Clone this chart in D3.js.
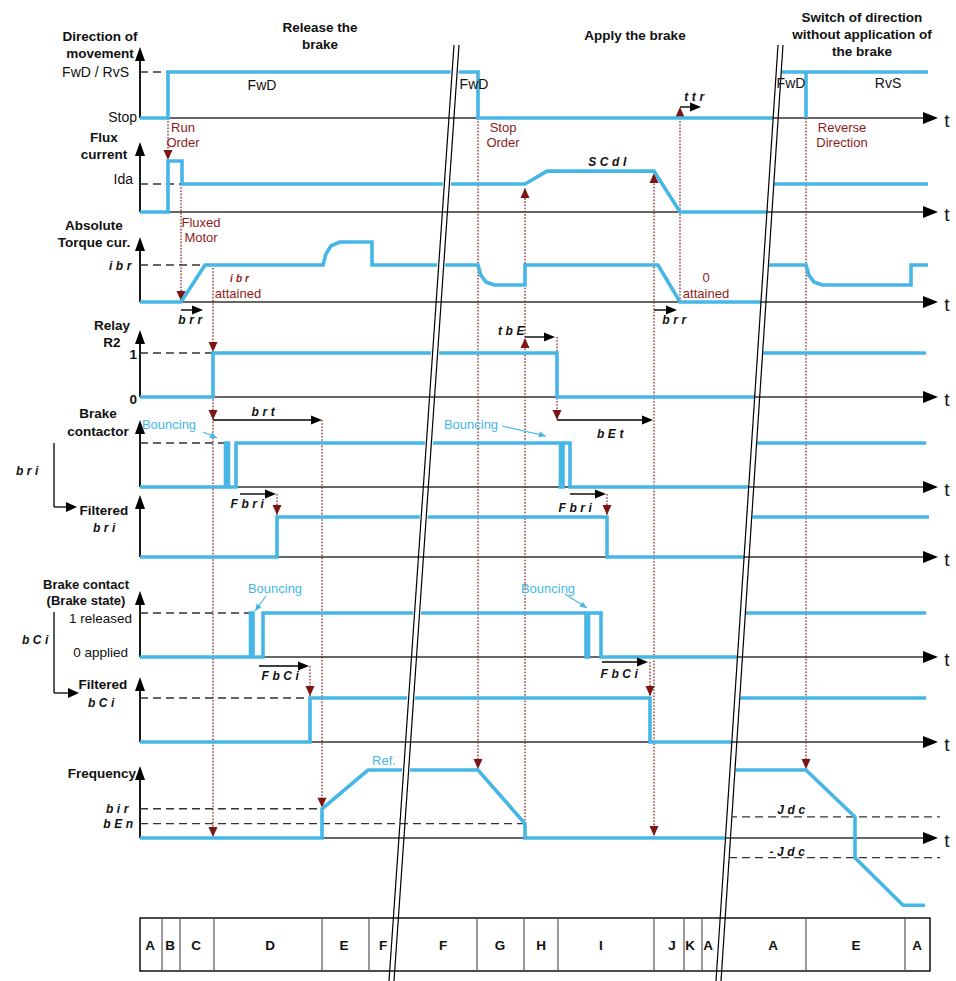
<!DOCTYPE html>
<html>
<head>
<meta charset="utf-8">
<script src="https://cdn.jsdelivr.net/npm/d3@7/dist/d3.min.js"></script>
<style>
html,body{margin:0;padding:0;background:#fff;}
svg{display:block;}
text{font-family:"Liberation Sans",Arial,Helvetica,sans-serif;}
</style>
</head>
<body>
<div id="chart"></div>
<script>
// ================= DATA =================
// time axis in arbitrary units
const timeExtent = [0, 79];

// Direction of movement (0 = Stop, 1 = FwD / RvS)
const directionTicks = ["Stop", "FwD / RvS"];
const directionPre  = [[0,0],[2.8,0],[2.8,1],[33.8,1],[33.8,0],[66,0]];
const directionPost = [[55,1],[66.6,1],[66.6,0],[66.6,1],[78.8,1]];

// Flux current (1 = Ida)
const fluxPre  = [[0,0],[2.8,0],[2.8,1.82],[4.2,1.82],[4.2,1],[38.5,1],[40.7,1.46],[51.4,1.46],[54.0,0],[66,0]];
const fluxPost = [[55,1],[78.8,1]];

// Absolute torque current (1 = ibr)
const torquePre  = [[0,0],[4.1,0],[6.5,1],[18.3,1],[18.6,1.3],[19.1,1.52],[20.0,1.62],[23.2,1.62],[23.2,1],[33.8,1],[34.1,0.72],[34.6,0.54],[35.4,0.46],[38.5,0.46],[38.5,1],[51.8,1],[54.0,0],[66,0]];
const torquePost = [[55,1],[66.6,1],[66.9,0.72],[67.4,0.54],[68.2,0.46],[77.1,0.46],[77.1,1],[78.8,1]];

// Relay R2 (0 / 1)
const relayTicks = ["0", "1"];
const relayPre  = [[0,0],[7.3,0],[7.3,1],[41.7,1],[41.7,0],[66,0]];
const relayPost = [[55,1],[78.6,1]];

// Brake contactor (bri)
const contactorPre  = [[0,0],[8.55,0],[8.55,1],[8.85,1],[8.85,0],[9.6,0],[9.6,1],[42.05,1],[42.05,0],[42.3,0],[42.3,1],[43.0,1],[43.0,0],[66,0]];
const contactorPost = [[55,1],[78.6,1]];

// Filtered bri
const filteredBriPre  = [[0,0],[13.7,0],[13.7,1],[46.7,1],[46.7,0],[66,0]];
const filteredBriPost = [[55,1],[78.9,1]];

// Brake contact (brake state) bCi
const brakeStateTicks = ["0 applied", "1 released"];
const brakeStatePre  = [[0,0],[11.05,0],[11.05,1],[11.3,1],[11.3,0],[12.3,0],[12.3,1],[44.6,1],[44.6,0],[44.85,0],[44.85,1],[46.1,1],[46.1,0],[66,0]];
const brakeStatePost = [[55,1],[78.6,1]];

// Filtered bCi
const filteredBciPre  = [[0,0],[17.0,0],[17.0,1],[51.0,1],[51.0,0],[66,0]];
const filteredBciPost = [[55,1],[78.6,1]];

// Frequency (1 = Ref.)
const frequencyPre  = [[0,0],[18.2,0],[18.2,0.43],[22.8,1],[33.8,1],[38.5,0.21],[38.5,0],[66,0]];
const frequencyPost = [[55,1],[66.6,1],[71.5,0.31],[71.5,-0.29],[76.3,-0.99],[78.5,-0.99]];
const freqThresholdNames  = ["bir", "bEn", "Jdc", "-Jdc"];
const freqThresholdValues = [0.43, 0.21, 0.31, -0.29];

// Phase table
const phaseLabels  = ["A","B","C","D","E","F","F","G","H","I","J","K","A","A","E","A"];
const phaseCenters = [1.0,3.0,5.6,13.0,20.4,24.3,30.3,36.0,40.1,46.1,53.2,55.0,56.8,63.3,71.6,77.7];
const phaseBounds  = [2.2,4.0,7.4,18.2,22.9,33.7,38.4,41.8,51.4,54.4,56.2,66.6,76.5];

// Timing parameters (black arrows): name, start, end
const timeArrowNames  = ["brr","brr","tbE","brt","bEt","Fbri","Fbri","FbCi","FbCi","ttr"];
const timeArrowStarts = [4.1, 51.4, 38.5, 7.3, 41.7, 10.0, 43.0, 11.9, 46.2, 54.0];
const timeArrowEnds   = [6.3, 53.7, 41.5, 18.2, 51.3, 13.6, 46.6, 16.9, 50.8, 56.1];

// Phase headers
const headerLines = [["Release the","brake"],["Apply the brake"],["Switch of direction","without application of","the brake"]];

// ================= LAYOUT =================
const W = 956, H = 981;
const BLUE = "#45b6e6", RED = "#7e1515", REDTXT = "#8c1c1c", AX = "#333";
const svg = d3.select("#chart").append("svg")
  .attr("width", W).attr("height", H).attr("viewBox", `0 0 ${W} ${H}`);
const defs = svg.append("defs");

const x = d3.scaleLinear().domain(timeExtent).range([140, 930]);
const X0 = x(0);

const rows = {
  direction:   {base:118, unit:46, top:47},
  flux:        {base:212, unit:28, top:142},
  torque:      {base:302, unit:37, top:237},
  relay:       {base:397, unit:44, top:330},
  contactor:   {base:487, unit:44, top:420},
  filteredBri: {base:557, unit:40, top:495},
  brakeState:  {base:657, unit:44, top:591},
  filteredBci: {base:742, unit:44, top:677},
  frequency:   {base:838, unit:68, top:766}
};
const yS = {};
for (const k in rows) yS[k] = d3.scaleLinear().domain([0,1]).range([rows[k].base, rows[k].base - rows[k].unit]);
const Y = (row, v) => yS[row](v);

// break lines
const BY0 = 45, BY1 = 981, GAP = 5;
const breaks = [{xTop:454, xBot:389}, {xTop:778, xBot:716}];
const bx = (b, y) => b.xTop + (b.xBot - b.xTop) * (y - BY0) / (BY1 - BY0);
const b1 = breaks[0], b2 = breaks[1];

const cpPre = defs.append("clipPath").attr("id","clipPre");
cpPre.append("polygon").attr("points", [[-10,-200],[bx(b1,-200)-1.5,-200],[bx(b1,1200)-1.5,1200],[-10,1200]].join(" "));
cpPre.append("polygon").attr("points", [[bx(b1,-200)+GAP+1.5,-200],[bx(b2,-200)-0.3,-200],[bx(b2,1200)-0.3,1200],[bx(b1,1200)+GAP+1.5,1200]].join(" "));
const cpPost = defs.append("clipPath").attr("id","clipPost");
cpPost.append("polygon").attr("points", [[bx(b2,-200)+GAP+0.5,-200],[1100,-200],[1100,1200],[bx(b2,1200)+GAP+0.5,1200]].join(" "));

// helpers
function tri(g, tx, ty, dir, len, half, color) {
  let pts;
  if (dir === "up")    pts = [[tx,ty],[tx-half,ty+len],[tx+half,ty+len]];
  if (dir === "down")  pts = [[tx,ty],[tx-half,ty-len],[tx+half,ty-len]];
  if (dir === "right") pts = [[tx,ty],[tx-len,ty-half],[tx-len,ty+half]];
  if (dir === "left")  pts = [[tx,ty],[tx+len,ty-half],[tx+len,ty+half]];
  g.append("polygon").attr("points", pts.join(" ")).attr("fill", color);
}
function txt(g, s, px, py, o = {}) {
  const t = g.append("text").attr("x", px).attr("y", py).attr("dy", "0.35em")
    .attr("text-anchor", o.anchor || "middle")
    .attr("font-size", o.size || 13)
    .attr("font-weight", o.bold ? "bold" : "normal")
    .attr("fill", o.color || "#111")
    .text(s);
  if (o.seg) {
    t.attr("font-family", "'DejaVu Sans Mono', monospace").attr("font-style", "italic")
     .attr("font-weight", "bold").attr("letter-spacing", o.ls != null ? o.ls : 3.6)
     .attr("font-size", o.size || 12);
  }
  return t;
}
function hline(g, x1, x2, y, color, w, dash) {
  const l = g.append("line").attr("x1", x1).attr("x2", x2).attr("y1", y).attr("y2", y)
    .attr("stroke", color).attr("stroke-width", w);
  if (dash) l.attr("stroke-dasharray", dash);
  return l;
}
function vline(g, xx, y1, y2, color, w, dash) {
  const l = g.append("line").attr("x1", xx).attr("x2", xx).attr("y1", y1).attr("y2", y2)
    .attr("stroke", color).attr("stroke-width", w);
  if (dash) l.attr("stroke-dasharray", dash);
  return l;
}

// ================= AXES =================
const gAx = svg.append("g");
for (const k in rows) {
  const r = rows[k];
  hline(gAx, X0, 925, r.base, AX, 1.5);
  tri(gAx, 938, r.base, "right", 15, 6, "#000");
  txt(gAx, "t", 947, r.base + 2, {size: 19});
  vline(gAx, X0, r.base, r.top + 10, "#000", 1.8);
  tri(gAx, X0, r.top, "up", 14, 5, "#000");
}

// dashed reference levels
const DASH = "8,5";
const gDash = svg.append("g");
hline(gDash, X0, x(2.8), Y("direction",1), "#333", 1.3, DASH);
hline(gDash, X0, x(4.2), Y("flux",1), "#333", 1.3, DASH);
hline(gDash, X0, x(6.5), Y("torque",1), "#333", 1.3, DASH);
hline(gDash, X0, x(7.3), Y("relay",1), "#333", 1.3, DASH);
hline(gDash, X0, x(8.55), Y("contactor",1), "#333", 1.3, DASH);
hline(gDash, X0, x(11.05), Y("brakeState",1), "#333", 1.3, DASH);
hline(gDash, X0, x(17.0), Y("filteredBci",1), "#333", 1.3, DASH);
hline(gDash, X0, x(18.2), Y("frequency", freqThresholdValues[0]), "#333", 1.3, DASH);
hline(gDash, X0, x(38.5), Y("frequency", freqThresholdValues[1]), "#333", 1.3, DASH);
hline(gDash, x(55), x(80), Y("frequency", freqThresholdValues[2]), "#333", 1.3, DASH).attr("clip-path","url(#clipPost)");
hline(gDash, x(55), x(80), Y("frequency", freqThresholdValues[3]), "#333", 1.3, DASH).attr("clip-path","url(#clipPost)");

// ================= PHASE TABLE =================
const gTab = svg.append("g");
const TT = 918, TB = 971;
gTab.append("rect").attr("x", X0).attr("y", TT).attr("width", x(79) - X0).attr("height", TB - TT)
  .attr("fill", "none").attr("stroke", "#000").attr("stroke-width", 1.4);
phaseBounds.forEach(t => vline(gTab, x(t), TT, TB, "#555", 1.2));
phaseLabels.forEach((s, i) => txt(gTab, s, x(phaseCenters[i]), (TT + TB) / 2 + 1, {bold: true, size: 13.5}));

// ================= DOTTED EVENT LINES =================
const gDot = svg.append("g");
const dotted = [
  {t:2.8,  y1:Y("direction",0), y2:Y("flux",1.82), heads:[[Y("flux",1.82)-1,"down"]]},
  {t:4.1,  y1:Y("flux",1), y2:Y("torque",0), heads:[[Y("torque",0)-1,"down"]]},
  {t:7.3,  y1:Y("torque",1)+3, y2:Y("frequency",0), heads:[[Y("relay",1)-1,"down"],[420,"down"],[Y("frequency",0)-1,"down"]]},
  {t:13.7, y1:494, y2:Y("filteredBri",1), heads:[[Y("filteredBri",1)-2,"down"]]},
  {t:17.0, y1:666, y2:Y("filteredBci",1), heads:[[Y("filteredBci",1)-2,"down"]]},
  {t:18.2, y1:420, y2:Y("frequency",0.43), heads:[[Y("frequency",0.43)-1,"down"]]},
  {t:33.8, y1:Y("direction",0), y2:Y("frequency",1), heads:[[Y("frequency",1)-1,"down"]]},
  {t:38.5, y1:Y("frequency",0.21), y2:Y("flux",1)+4, heads:[[Y("flux",1)+4,"up"],[338,"up"]]},
  {t:41.7, y1:337, y2:420, heads:[[420,"down"]]},
  {t:46.7, y1:494, y2:Y("filteredBri",1), heads:[[Y("filteredBri",1)-2,"down"]]},
  {t:51.0, y1:662, y2:Y("filteredBci",1), heads:[[Y("filteredBci",1)-2,"down"]]},
  {t:51.4, y1:Y("frequency",0), y2:Y("flux",1.46)+2, heads:[[Y("flux",1.46)+2,"up"],[Y("frequency",0)-2,"down"]]},
  {t:54.0, y1:Y("torque",0), y2:107, heads:[[107,"up"]]},
  {t:66.6, y1:Y("direction",0), y2:Y("frequency",1), heads:[[Y("frequency",1)-1,"down"]]}
];
dotted.forEach(d => {
  vline(gDot, x(d.t), d.y1, d.y2, RED, 1.2, "1.6,1.6");
  d.heads.forEach(h => tri(gDot, x(d.t), h[0], h[1], 10, 4.5, RED));
});

// ================= SIGNALS =================
const gSig = svg.append("g");
function drawSignal(points, row, clip) {
  gSig.append("path").datum(points)
    .attr("d", d3.line().x(d => x(d[0])).y(d => Y(row, d[1])))
    .attr("fill", "none").attr("stroke", BLUE).attr("stroke-width", 3.6)
    .attr("stroke-linejoin", "miter").attr("stroke-miterlimit", 4)
    .attr("clip-path", `url(#${clip})`);
}
[[directionPre,directionPost,"direction"],[fluxPre,fluxPost,"flux"],[torquePre,torquePost,"torque"],
 [relayPre,relayPost,"relay"],[contactorPre,contactorPost,"contactor"],[filteredBriPre,filteredBriPost,"filteredBri"],
 [brakeStatePre,brakeStatePost,"brakeState"],[filteredBciPre,filteredBciPost,"filteredBci"],
 [frequencyPre,frequencyPost,"frequency"]].forEach(([pre, post, row]) => {
  drawSignal(pre, row, "clipPre");
  drawSignal(post, row, "clipPost");
});

// ================= TIMING ARROWS =================
const gArr = svg.append("g");
const arrowY = [310, 310, 337, 420, 420, 494, 494, 666, 662, 107];
const labelPos = [[192,320],[676,320],[513,331],[265,412],[612,434],[249,504],[577,508],[282,676],[621,674],[696,97]];
timeArrowNames.forEach((n, i) => {
  const x1 = x(timeArrowStarts[i]), x2 = x(timeArrowEnds[i]);
  hline(gArr, x1, x2 - 8, arrowY[i], "#000", 1.4);
  tri(gArr, x2, arrowY[i], "right", 11, 4.5, "#000");
  txt(gArr, n, labelPos[i][0], labelPos[i][1], {seg: true});
});

// ================= BREAK LINES =================
const gBrk = svg.append("g");
breaks.forEach(b => {
  [0, GAP].forEach(o => {
    gBrk.append("line").attr("x1", b.xTop + o).attr("y1", BY0).attr("x2", b.xBot + o).attr("y2", BY1)
      .attr("stroke", "#000").attr("stroke-width", 1.2);
  });
});

// ================= TEXT =================
const gT = svg.append("g");
headerLines[0].forEach((s, i) => txt(gT, s, 320, 27 + i * 17, {bold: true, size: 13.5}));
headerLines[1].forEach((s, i) => txt(gT, s, 635, 35, {bold: true, size: 13.5}));
headerLines[2].forEach((s, i) => txt(gT, s, 862, 17 + i * 17, {bold: true, size: 13.5}));

txt(gT, "Direction of", 100, 36, {bold: true, size: 13.5});
txt(gT, "movement", 100, 53, {bold: true, size: 13.5});
txt(gT, directionTicks[1], 129, Y("direction",1), {anchor: "end", size: 14});
txt(gT, directionTicks[0], 137, Y("direction",0) - 1, {anchor: "end", size: 14});

txt(gT, "Flux", 104, 137, {bold: true, size: 13.5});
txt(gT, "current", 104, 154, {bold: true, size: 13.5});
txt(gT, "Ida", 133, 179, {anchor: "end", size: 14});

txt(gT, "Absolute", 94, 225, {bold: true, size: 13.5});
txt(gT, "Torque cur.", 94, 242, {bold: true, size: 13.5});
txt(gT, "ibr", 122, 266, {seg: true});

txt(gT, "Relay", 112, 325, {bold: true, size: 13.5});
txt(gT, "R2", 112, 342, {bold: true, size: 13.5});
txt(gT, relayTicks[1], 137, Y("relay",1) + 1, {anchor: "end", bold: true, size: 13.5});
txt(gT, relayTicks[0], 137, Y("relay",0) + 2, {anchor: "end", bold: true, size: 13.5});

txt(gT, "Brake", 98, 413, {bold: true, size: 13.5});
txt(gT, "contactor", 98, 431, {bold: true, size: 13.5});
txt(gT, "bri", 29, 471, {seg: true});

txt(gT, "Filtered", 104, 510, {bold: true, size: 13.5});
txt(gT, "bri", 106, 528, {seg: true});

txt(gT, "Brake contact", 86, 584, {bold: true, size: 13});
txt(gT, "(Brake state)", 86, 600, {bold: true, size: 13});
txt(gT, brakeStateTicks[1], 132, 618, {anchor: "end", size: 13.5});
txt(gT, brakeStateTicks[0], 128, 652, {anchor: "end", size: 13.5});
txt(gT, "bCi", 37, 640, {seg: true});

txt(gT, "Filtered", 103, 684, {bold: true, size: 13.5});
txt(gT, "bCi", 103, 703, {seg: true});

txt(gT, "Frequency", 102, 773, {bold: true, size: 13.5});
txt(gT, freqThresholdNames[0], 119, Y("frequency", freqThresholdValues[0]), {seg: true});
txt(gT, freqThresholdNames[1], 120, Y("frequency", freqThresholdValues[1]), {seg: true});
txt(gT, freqThresholdNames[2], 793, 810, {seg: true});
txt(gT, freqThresholdNames[3], 789, 852, {seg: true});

// brackets bri / bCi
vline(gT, 54, 443, 507, "#000", 1.3);
hline(gT, 54, 68, 507, "#000", 1.3);
tri(gT, 77, 507, "right", 11, 5, "#000");
vline(gT, 54, 612, 693, "#000", 1.3);
hline(gT, 54, 70, 693, "#000", 1.3);
tri(gT, 79, 693, "right", 11, 5, "#000");

txt(gT, "FwD", 262, 85, {size: 14});
txt(gT, "FwD", 474, 84, {size: 14});
txt(gT, "FwD", 791, 83, {size: 14});
txt(gT, "RvS", 888, 83, {size: 14});

txt(gT, "Run", 183, 127, {color: REDTXT});
txt(gT, "Order", 183, 142, {color: REDTXT});
txt(gT, "Stop", 503, 127, {color: REDTXT});
txt(gT, "Order", 503, 142, {color: REDTXT});
txt(gT, "Reverse", 842, 127, {color: REDTXT});
txt(gT, "Direction", 842, 142, {color: REDTXT});
txt(gT, "Fluxed", 201, 222, {color: REDTXT});
txt(gT, "Motor", 201, 237, {color: REDTXT});
txt(gT, "ibr", 241, 278, {seg: true, color: REDTXT, size: 10, ls: 3});
txt(gT, "attained", 238, 293, {color: REDTXT});
txt(gT, "0", 706, 277, {color: REDTXT});
txt(gT, "attained", 706, 293, {color: REDTXT});
txt(gT, "SCdI", 609, 162, {seg: true});

txt(gT, "Ref.", 384, 760, {color: BLUE});
const bounces = [[169,424,203,432,217,438],[471,424,502,426,546,436],[275,588,266,596,255,611],[548,588,565,594,587,608]];
bounces.forEach(b => {
  txt(gT, "Bouncing", b[0], b[1], {color: BLUE});
  gT.append("line").attr("x1", b[2]).attr("y1", b[3]).attr("x2", b[4]).attr("y2", b[5])
    .attr("stroke", BLUE).attr("stroke-width", 1.2);
  const ang = Math.atan2(b[5] - b[3], b[4] - b[2]);
  const L = 7, Hh = 3;
  const p = [[b[4], b[5]],
    [b[4] - L*Math.cos(ang) + Hh*Math.sin(ang), b[5] - L*Math.sin(ang) - Hh*Math.cos(ang)],
    [b[4] - L*Math.cos(ang) - Hh*Math.sin(ang), b[5] - L*Math.sin(ang) + Hh*Math.cos(ang)]];
  gT.append("polygon").attr("points", p.join(" ")).attr("fill", BLUE);
});
</script>
</body>
</html>
